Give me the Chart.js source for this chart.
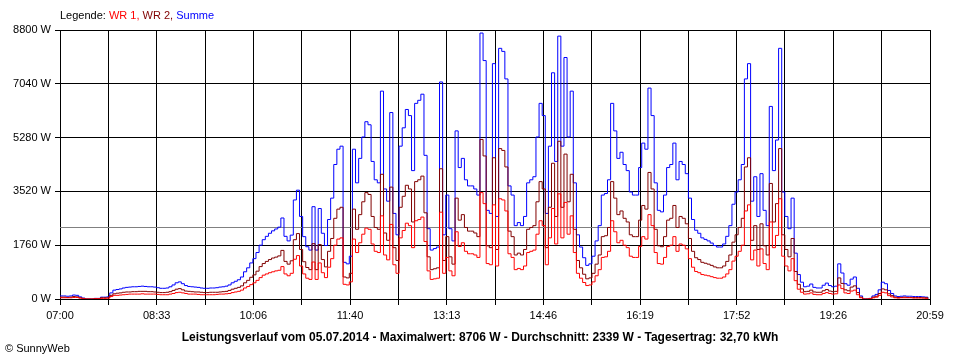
<!DOCTYPE html>
<html>
<head>
<meta charset="utf-8">
<script src="https://cdn.jsdelivr.net/npm/chart.js@4/dist/chart.umd.min.js"></script>
<style>
  body { margin: 0; background: #fff; }
  #wrap { position: relative; width: 960px; height: 360px; font-family: "Liberation Sans", Arial, sans-serif; color: #000; }
  #legende { position: absolute; left: 60px; top: 9px; font-size: 11px; }
  #titel { position: absolute; left: 0; width: 960px; top: 330px; text-align: center; font-size: 12px; font-weight: bold; }
  #copy { position: absolute; left: 5px; top: 342px; font-size: 11px; }
</style>
</head>
<body>
<div id="wrap">
  <canvas id="leistung" width="960" height="360"></canvas>
  <div id="legende">Legende: <span style="color:#ff0000">WR 1,</span> <span style="color:#800000">WR 2,</span> <span style="color:#0000ff">Summe</span></div>
  <div id="titel">Leistungsverlauf vom 05.07.2014 - Maximalwert: 8706 W - Durchschnitt: 2339 W - Tagesertrag: 32,70 kWh</div>
  <div id="copy">&copy; SunnyWeb</div>
</div>
<script>
// Zeit in Minuten seit Mitternacht, ein Messwert alle 3 Minuten ab 07:00
const startMin = 420;
const endMin = 1259;
const stepMin = 3;

const tickLabels = ["07:00", "08:33", "10:06", "11:40", "13:13", "14:46", "16:19", "17:52", "19:26", "20:59"];
const yTicks = [0, 1760, 3520, 5280, 7040, 8800];
const durchschnitt = 2339;

const summe = [
  100, 100, 90, 100, 130, 120, 70, 30, 0, 0,
  0, 20, 20, 60, 60, 70, 200, 290, 310, 330,
  360, 380, 390, 400, 400, 410, 420, 410, 400, 400,
  390, 370, 350, 350, 360, 400, 460, 530, 560, 500,
  440, 410, 400, 390, 380, 360, 350, 350, 360, 360,
  370, 390, 400, 420, 460, 530, 580, 630, 720, 890,
  1020, 1180, 1320, 1520, 1760, 1940, 2050, 2150, 2230, 2290,
  2350, 2650, 2050, 1900, 2090, 3240, 3560, 2700, 2040, 1710,
  1600, 3020, 1600, 2960, 2150, 1750, 2600, 3300, 4400, 4900,
  5000, 1200, 1150, 1400, 4900, 3800, 4600, 5300, 5800, 5700,
  4500, 3900, 3800, 6800, 3600, 3200, 6100, 2800, 2100, 5000,
  5600, 6200, 6000, 4200, 6400, 6500, 6700, 4700, 2300, 1600,
  1650, 1700, 7100, 2100, 3400, 2300, 1900, 5500, 4300, 4600,
  3900, 3700, 3700, 3600, 3400, 8700, 7800, 2900, 2800, 7700,
  2700, 8200, 8100, 7200, 3700, 3400, 2400, 2500, 2400, 2700,
  3800, 3900, 4000, 5300, 6400, 6000, 2800, 5000, 7400, 4500,
  8600, 5000, 7900, 5300, 6800, 3800, 2100, 1700, 1350, 1100,
  1150, 1400, 1900, 2400, 3400, 3450, 3900, 6400, 5500, 4600,
  4800, 4400, 4200, 3500, 3400, 3400, 4300, 5100, 4900, 6900,
  6000, 3800, 2900, 2850, 3400, 4300, 4400, 5100, 3900, 4500,
  4400, 4100, 3300, 2600, 2250, 2150, 2000, 1950, 1900, 1830,
  1750, 1700, 1700, 1800, 2050, 2400, 3100, 3500, 3900, 4400,
  7200, 7700, 3200, 4000, 2700, 4100, 2900, 2400, 6300, 4200,
  5200, 8200, 3500, 2700, 2300, 3300, 1500, 800, 550, 400,
  420, 490, 380, 360, 360, 450, 520, 440, 400, 420,
  1150, 850, 500, 450, 650, 720, 350, 100, 0, 0,
  20, 100, 150, 300, 550, 500, 280, 180, 100, 80,
  90, 100, 90, 90, 80, 80, 80, 70, 60, 20
];

const wr1 = [
  40, 40, 40, 40, 50, 50, 30, 10, 0, 0,
  0, 10, 10, 20, 20, 30, 80, 120, 120, 130,
  140, 150, 160, 160, 160, 160, 170, 160, 160, 160,
  160, 150, 140, 140, 140, 160, 180, 210, 220, 200,
  180, 160, 160, 160, 150, 140, 140, 140, 140, 140,
  150, 160, 160, 170, 180, 210, 230, 250, 290, 360,
  410, 470, 530, 610, 700, 780, 820, 860, 890, 920,
  940, 1060, 820, 760, 840, 1300, 1420, 1080, 820, 680,
  640, 1210, 640, 1180, 860, 700, 1040, 1320, 1760, 1960,
  2000, 480, 460, 560, 1960, 1520, 1840, 2120, 2320, 2280,
  1800, 1560, 1520, 2720, 1440, 1280, 2440, 1120, 840, 2000,
  2240, 2480, 2400, 1680, 2560, 2600, 2680, 1880, 920, 640,
  660, 680, 2840, 840, 1360, 920, 760, 2200, 1720, 1840,
  1560, 1480, 1480, 1440, 1360, 3480, 3120, 1160, 1120, 3080,
  1080, 3280, 3240, 2880, 1480, 1360, 960, 1000, 960, 1080,
  1520, 1560, 1600, 2120, 2560, 2400, 1120, 2000, 2960, 1800,
  3440, 2000, 3160, 2120, 2720, 1520, 840, 680, 540, 440,
  460, 560, 760, 960, 1360, 1380, 1560, 2560, 2200, 1840,
  1920, 1760, 1680, 1400, 1360, 1360, 1720, 2040, 1960, 2760,
  2400, 1520, 1160, 1140, 1360, 1720, 1760, 2040, 1560, 1800,
  1760, 1640, 1320, 1040, 900, 860, 800, 780, 760, 730,
  700, 680, 680, 720, 820, 960, 1240, 1400, 1560, 1760,
  2880, 3080, 1280, 1600, 1080, 1640, 1160, 960, 2520, 1680,
  2080, 3280, 1400, 1080, 920, 1320, 600, 320, 220, 160,
  170, 200, 150, 140, 140, 180, 210, 180, 160, 170,
  460, 340, 200, 180, 260, 290, 140, 40, 0, 0,
  10, 40, 60, 120, 220, 200, 110, 70, 40, 30,
  40, 40, 40, 40, 30, 30, 30, 30, 20, 10
];

const wr2 = [
  60, 60, 50, 60, 80, 70, 40, 20, 0, 0,
  0, 10, 10, 40, 40, 40, 120, 170, 190, 200,
  220, 230, 230, 240, 240, 250, 250, 250, 240, 240,
  230, 220, 210, 210, 220, 240, 280, 320, 340, 300,
  260, 250, 240, 230, 230, 220, 210, 210, 220, 220,
  220, 230, 240, 250, 280, 320, 350, 380, 430, 530,
  610, 710, 790, 910, 1060, 1160, 1230, 1290, 1340, 1370,
  1410, 1590, 1230, 1140, 1250, 1940, 2140, 1620, 1220, 1030,
  960, 1810, 960, 1780, 1290, 1050, 1560, 1980, 2640, 2940,
  3000, 720, 690, 840, 2940, 2280, 2760, 3180, 3480, 3420,
  2700, 2340, 2280, 4080, 2160, 1920, 3660, 1680, 1260, 3000,
  3360, 3720, 3600, 2520, 3840, 3900, 4020, 2820, 1380, 960,
  990, 1020, 4260, 1260, 2040, 1380, 1140, 3300, 2580, 2760,
  2340, 2220, 2220, 2160, 2040, 5220, 4680, 1740, 1680, 4620,
  1620, 4920, 4860, 4320, 2220, 2040, 1440, 1500, 1440, 1620,
  2280, 2340, 2400, 3180, 3840, 3600, 1680, 3000, 4440, 2700,
  5160, 3000, 4740, 3180, 4080, 2280, 1260, 1020, 810, 660,
  690, 840, 1140, 1440, 2040, 2070, 2340, 3840, 3300, 2760,
  2880, 2640, 2520, 2100, 2040, 2040, 2580, 3060, 2940, 4140,
  3600, 2280, 1740, 1710, 2040, 2580, 2640, 3060, 2340, 2700,
  2640, 2460, 1980, 1560, 1350, 1290, 1200, 1170, 1140, 1100,
  1050, 1020, 1020, 1080, 1230, 1440, 1860, 2100, 2340, 2640,
  4320, 4620, 1920, 2400, 1620, 2460, 1740, 1440, 3780, 2520,
  3120, 4920, 2100, 1620, 1380, 1980, 900, 480, 330, 240,
  250, 290, 230, 220, 220, 270, 310, 260, 240, 250,
  690, 510, 300, 270, 390, 430, 210, 60, 0, 0,
  10, 60, 90, 180, 330, 300, 170, 110, 60, 50,
  50, 60, 50, 50, 50, 50, 50, 40, 40, 10
];

function toPoints(values) {
  return values.map((v, i) => ({ x: startMin + i * stepMin, y: v }));
}

const ctx = document.getElementById("leistung");

new Chart(ctx, {
  type: "line",
  data: {
    datasets: [
      { label: "WR 1", data: toPoints(wr1), borderColor: "#ff0000" },
      { label: "WR 2", data: toPoints(wr2), borderColor: "#800000" },
      { label: "Summe", data: toPoints(summe), borderColor: "#0000ff" },
      {
        label: "Durchschnitt",
        data: [{ x: startMin, y: durchschnitt }, { x: endMin, y: durchschnitt }],
        borderColor: "#808080",
        stepped: false
      }
    ]
  },
  options: {
    responsive: false,
    animation: false,
    stepped: true,
    datasets: {
      line: { borderWidth: 1, pointRadius: 0, stepped: true, tension: 0 }
    },
    layout: { padding: { top: 30, right: 30, left: 0, bottom: 0 } },
    plugins: {
      legend: { display: false },
      tooltip: { enabled: false }
    },
    scales: {
      x: {
        type: "linear",
        min: startMin,
        max: endMin,
        afterBuildTicks: (scale) => {
          const n = (tickLabels.length - 1) * 2;
          const ticks = [];
          for (let k = 0; k <= n; k++) {
            ticks.push({ value: startMin + k * (endMin - startMin) / n });
          }
          scale.ticks = ticks;
        },
        afterFit: (scale) => { scale.height = 61; },
        grid: { color: "#000", lineWidth: 1, tickLength: 6, tickColor: "#000" },
        border: { color: "#000" },
        ticks: {
          autoSkip: false,
          maxRotation: 0,
          padding: 4,
          color: "#000",
          font: { family: "'Liberation Sans', Arial, sans-serif", size: 11 },
          callback: (value, index) => index % 2 === 0 ? tickLabels[index / 2] : ""
        }
      },
      y: {
        min: 0,
        max: 8800,
        afterBuildTicks: (scale) => {
          scale.ticks = yTicks.map(v => ({ value: v }));
        },
        afterFit: (scale) => { scale.width = 60; },
        grid: { color: "#000", lineWidth: 1, tickLength: 5, tickColor: "#000" },
        border: { color: "#000" },
        ticks: {
          padding: 4,
          color: "#000",
          font: { family: "'Liberation Sans', Arial, sans-serif", size: 11 },
          callback: (value) => value + " W"
        }
      }
    }
  }
});
</script>
</body>
</html>
